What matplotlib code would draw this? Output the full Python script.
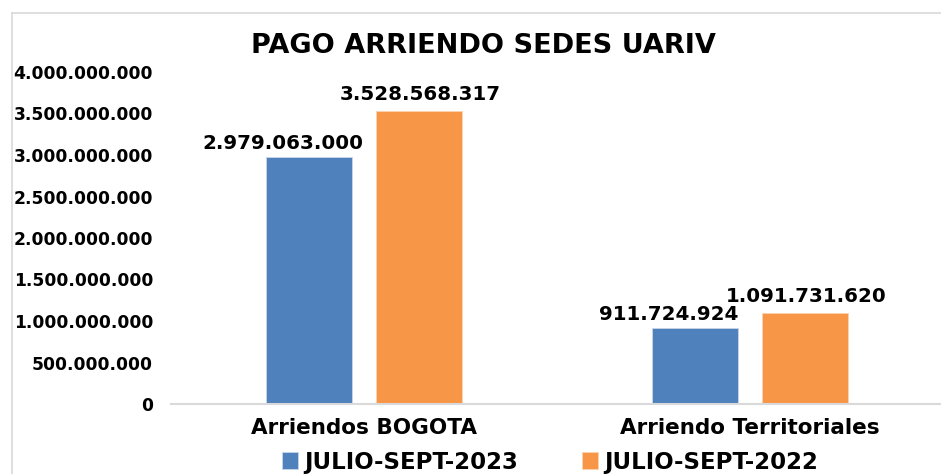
import matplotlib
matplotlib.use('Agg')
import matplotlib.pyplot as plt
import numpy as np
from matplotlib.lines import Line2D
from matplotlib.ticker import FuncFormatter

categories   = ['Arriendos BOGOTA', 'Arriendo Territoriales']
series_names = ['JULIO-SEPT-2023', 'JULIO-SEPT-2022']
values_2023  = [2979063000, 911724924]
values_2022  = [3528568317, 1091731620]
y_ticks      = [0, 500000000, 1000000000, 1500000000, 2000000000,
                2500000000, 3000000000, 3500000000, 4000000000]

blue   = '#4F81BD'
orange = '#F79646'


def miles(v, pos=None):
    return f'{int(round(v)):,}'.replace(',', '.')


plt.rcParams['font.family'] = ['DejaVu Sans']
plt.rcParams['font.weight'] = 'bold'

fig = plt.figure(figsize=(9.41, 4.74), dpi=100)

# chart frame: only top and left edges are visible in the crop
top_y = 1 - 12.5 / 474
left_x = 11.5 / 941
fig.lines.append(Line2D([left_x, 1.0], [top_y, top_y], transform=fig.transFigure,
                        color='#D9D9D9', linewidth=1.2))
fig.lines.append(Line2D([left_x, left_x], [0, top_y], transform=fig.transFigure,
                        color='#D9D9D9', linewidth=1.2))

ax = fig.add_axes([171 / 941, 70 / 474, 772 / 941, 332 / 474])

x = np.arange(len(categories))
w = 0.224
off = 0.142

b1 = ax.bar(x - off, values_2023, w, color=blue, edgecolor='#C9D6E8', linewidth=0.6, label=series_names[0])
b2 = ax.bar(x + off, values_2022, w, color=orange, edgecolor='#FAD2B0', linewidth=0.6, label=series_names[1])

for rect, v in zip(b1, values_2023):
    ax.annotate(miles(v), (rect.get_x() + rect.get_width() / 2, v),
                xytext=(-19, 3), textcoords='offset points',
                ha='center', va='bottom', fontsize=14.3, fontweight='bold')
for rect, v in zip(b2, values_2022):
    ax.annotate(miles(v), (rect.get_x() + rect.get_width() / 2, v),
                xytext=(1, 5), textcoords='offset points',
                ha='center', va='bottom', fontsize=14.3, fontweight='bold')

ax.set_xlim(-0.5, 1.5)
ax.set_ylim(0, 4000000000)
ax.set_yticks(y_ticks)
ax.yaxis.set_major_formatter(FuncFormatter(miles))
ax.set_xticks(x)
ax.set_xticklabels(categories, fontsize=15.5, fontweight='bold')
ax.tick_params(axis='y', length=0, pad=13, labelsize=12.3)
ax.tick_params(axis='x', length=0, pad=10)
for lab in ax.get_yticklabels():
    lab.set_fontweight('bold')

for s in ['top', 'right', 'left']:
    ax.spines[s].set_visible(False)
ax.spines['bottom'].set_color('#D9D9D9')
ax.spines['bottom'].set_linewidth(1.5)

fig.text(483 / 941, 428 / 474, 'PAGO ARRIENDO SEDES UARIV', ha='center', va='center',
         fontsize=19.5, fontweight='bold')

fig.legend(handles=[b1, b2], loc='center', bbox_to_anchor=(550 / 941, 12 / 474), ncol=2,
           frameon=False, prop={'size': 16.5, 'weight': 'bold'},
           handlelength=0.7, handleheight=0.7, handletextpad=0.25, columnspacing=2.8)

fig.savefig('out.png', dpi=100)
